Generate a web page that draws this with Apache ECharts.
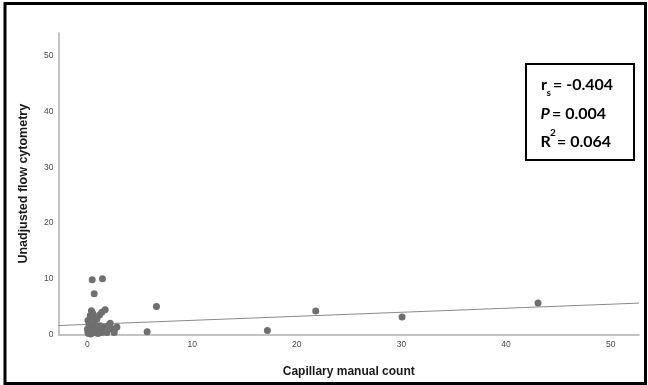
<!DOCTYPE html>
<html>
<head>
<meta charset="utf-8">
<script src="https://cdn.jsdelivr.net/npm/echarts@6/dist/echarts.min.js"></script>
<style>
  html, body { margin: 0; padding: 0; background: #fff; }
  #chart { width: 648px; height: 385px; }
</style>
</head>
<body>
<div id="chart"></div>
<script>
// Capillary manual count (x) vs unadjusted flow cytometry (y)
const capillaryCount = [
  17.19, 21.81, 30.06, 43.05, 5.70, 6.59, 0.45, 1.43, 0.64,
  0.38, 1.69, 0.26, 0.57, 1.37, 1.15, 0.90, 0.67, 0.42, 0.19,
  0.04, 0.74, 1.21, 1.69, 2.17, 2.33, 2.81, 2.55, 1.85, 1.37,
  0.42, 1.05, 1.53, 0.00, 0.10, 0.20, 0.30, 0.60, 0.80, 1.00,
  0.50, 0.05, 0.15, 2.00, 2.60
];
const flowCytometry = [
  0.72, 4.20, 3.12, 5.63, 0.48, 5.02, 9.81, 9.99, 7.30,
  4.25, 4.43, 3.35, 2.94, 4.00, 3.50, 2.76, 2.04, 1.33, 0.84,
  0.36, 0.54, 1.56, 1.33, 2.04, 0.97, 1.33, 0.36, 0.36, 0.36,
  0.25, 0.84, 0.84, 1.00, 0.20, 0.50, 0.10, 0.30, 1.20, 0.20,
  3.80, 2.50, 1.80, 1.60, 1.00
];

// Linear fit line, spanning the x-axis range
const fitX = [-2.77, 52.7];
const fitY = [1.61, 5.63];

const xTicks = [0, 10, 20, 30, 40, 50];
const yTicks = [0, 10, 20, 30, 40, 50];

// Spearman rho, p-value, R squared
const statValues = ['-0.404', '0.004', '0.064'];

const chart = echarts.init(document.getElementById('chart'));

const points = capillaryCount.map((x, i) => [x, flowCytometry[i]]);
const fitLine = fitX.map((x, i) => [x, fitY[i]]);

const tickLabel = { fontFamily: 'Liberation Sans', fontSize: 8.5, color: '#4a4a4a' };
const axisTitle = { fontFamily: 'Liberation Sans', fontSize: 12, fontWeight: 'bold', color: '#1a1a1a' };

const statFont = { fontFamily: 'Lato', fontWeight: 'bold', fontSize: 16, fill: '#000' };
function statText(text, x, y, extra) {
  return {
    type: 'text', x: x, y: y, z: 11, silent: true,
    style: Object.assign({ text: text, textVerticalAlign: 'middle', textAlign: 'left' }, statFont, extra || {})
  };
}

chart.setOption({
  animation: false,
  backgroundColor: '#fff',
  grid: { left: 58.5, right: 9, top: 33, bottom: 50.5, containLabel: false },
  xAxis: {
    type: 'value',
    min: -2.77,
    max: 52.7,
    name: 'Capillary manual count',
    nameLocation: 'middle',
    nameGap: 31,
    nameTextStyle: axisTitle,
    axisLine: { show: true, onZero: false, lineStyle: { color: '#b0b0b0', width: 1.5 } },
    axisTick: { show: false },
    splitLine: { show: false },
    axisLabel: Object.assign({ customValues: xTicks, margin: 6 }, tickLabel)
  },
  yAxis: {
    type: 'value',
    min: 0,
    max: 54.1,
    name: 'Unadjusted flow cytometry',
    nameLocation: 'middle',
    nameGap: 28,
    nameTextStyle: Object.assign({}, axisTitle, { fontSize: 12.5 }),
    axisLine: { show: true, onZero: false, lineStyle: { color: '#b0b0b0', width: 1.5 } },
    axisTick: { show: false },
    splitLine: { show: false },
    axisLabel: Object.assign({ customValues: yTicks, margin: 5 }, tickLabel)
  },
  series: [
    {
      type: 'line',
      data: fitLine,
      showSymbol: false,
      symbol: 'none',
      lineStyle: { color: '#8a8a8a', width: 1 },
      z: 2
    },
    {
      type: 'scatter',
      data: points,
      symbolSize: 7,
      itemStyle: { color: '#6f6f6f', opacity: 1 },
      z: 3
    }
  ],
  graphic: [
    {
      type: 'rect',
      shape: { x: 5, y: 3.5, width: 640.5, height: 380 },
      style: { fill: 'none', stroke: '#000', lineWidth: 3 },
      silent: true
    },
    {
      type: 'rect',
      shape: { x: 526, y: 64, width: 108, height: 96 },
      style: { fill: '#fff', stroke: '#000', lineWidth: 2 },
      z: 10
    },
    statText('r', 541, 85),
    statText('s', 546.5, 93, { fontSize: 10 }),
    statText('= ' + statValues[0], 553, 85),
    statText('P', 540.5, 114, { fontStyle: 'italic' }),
    statText('= ' + statValues[1], 552, 114),
    statText('R', 540.5, 142),
    statText('2', 550, 133, { fontSize: 10 }),
    statText('= ' + statValues[2], 557, 142)
  ]
});
</script>
</body>
</html>
